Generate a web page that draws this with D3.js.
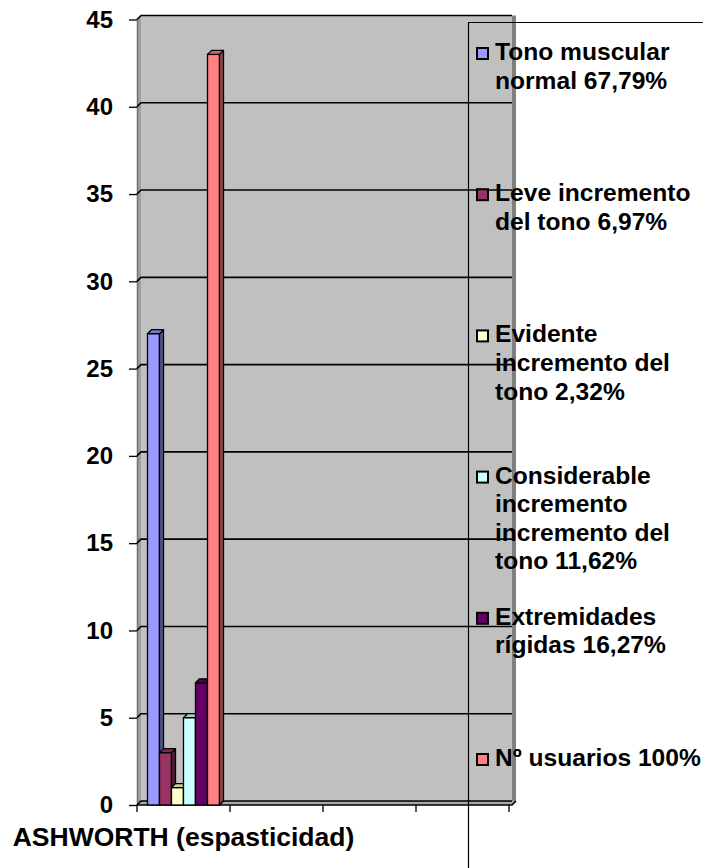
<!DOCTYPE html>
<html>
<head>
<meta charset="utf-8">
<script src="https://cdn.jsdelivr.net/npm/d3@7"></script>
<style>
  html, body { margin: 0; padding: 0; background: #fff; }
  svg { display: block; }
  text { font-family: "Liberation Sans", Arial, sans-serif; font-weight: bold; fill: #000; }
</style>
</head>
<body>
<svg id="chart" width="703" height="868"></svg>
<script>
// ---- data ----
const categories = ["ASHWORTH (espasticidad)", "", "", ""];
const seriesNames = [
  "Tono muscular normal 67,79%",
  "Leve incremento del tono 6,97%",
  "Evidente incremento del tono 2,32%",
  "Considerable incremento incremento del tono 11,62%",
  "Extremidades rígidas 16,27%",
  "Nº usuarios 100%"
];
const legendLines = [
  ["Tono muscular", "normal 67,79%"],
  ["Leve incremento", "del tono 6,97%"],
  ["Evidente", "incremento del", "tono 2,32%"],
  ["Considerable", "incremento", "incremento del", "tono 11,62%"],
  ["Extremidades", "rígidas 16,27%"],
  ["Nº usuarios 100%"]
];
const seriesColors = ["#9999FF", "#993366", "#FFFFCC", "#CCFFFF", "#660066", "#FF8080"];
// values per series, one per category
const tonoNormal    = [27, null, null, null];
const leveInc       = [3, null, null, null];
const evidenteInc   = [1, null, null, null];
const considerable  = [5, null, null, null];
const extremidades  = [7, null, null, null];
const usuarios      = [43, null, null, null];
const seriesValues = [tonoNormal, leveInc, evidenteInc, considerable, extremidades, usuarios];
const yTicks = [0, 5, 10, 15, 20, 25, 30, 35, 40, 45];

// ---- layout ----
const svg = d3.select("#chart");
const depth = 4;              // 3D offset
const frontLeft = 137, frontRight = 509, frontBottom = 805, frontTop = 19.5;

const y = d3.scaleLinear().domain([0, 45]).range([frontBottom, frontTop]);
const x = d3.scaleBand().domain(d3.range(categories.length)).range([frontLeft, frontRight]).padding(0);
const xs = d3.scaleBand().domain(d3.range(seriesNames.length)).range([0, x.bandwidth()])
  .paddingInner(0).paddingOuter(0.875);

const wallRight = frontRight + 3;
const wallTop = y(45) - depth;
const wallBottom = y(0) - depth;

// back wall
svg.append("rect")
  .attr("x", frontLeft + depth).attr("y", wallTop)
  .attr("width", wallRight - frontLeft - depth).attr("height", wallBottom - wallTop)
  .attr("fill", "#C0C0C0");
// right edge of wall
svg.append("rect")
  .attr("x", wallRight).attr("y", wallTop)
  .attr("width", depth).attr("height", wallBottom - wallTop)
  .attr("fill", "#808080");
// left side wall
svg.append("path")
  .attr("d", `M${frontLeft},${y(45)} L${frontLeft + depth},${wallTop} L${frontLeft + depth},${wallBottom} L${frontLeft},${y(0)} Z`)
  .attr("fill", "#A0A0A0");
svg.append("line")
  .attr("x1", frontLeft + 0.5).attr("x2", frontLeft + 0.5)
  .attr("y1", y(45)).attr("y2", y(0))
  .attr("stroke", "#707070").attr("stroke-width", 1.5);
// floor
svg.append("path")
  .attr("d", `M${frontLeft},${y(0)} L${frontLeft + depth},${wallBottom} L${wallRight + depth},${wallBottom} L${wallRight},${y(0)} Z`)
  .attr("fill", "#A8A8A8");

// gridlines (side wall + back wall)
svg.append("g").selectAll("path").data(yTicks).join("path")
  .attr("d", d => `M${frontLeft},${y(d)} L${frontLeft + depth},${y(d) - depth} L${wallRight},${y(d) - depth}`)
  .attr("fill", "none").attr("stroke", "#000").attr("stroke-width", 1.6);

// floor front edge
svg.append("path")
  .attr("d", `M${frontLeft},${y(0)} L${wallRight},${y(0)} L${wallRight + depth},${wallBottom}`)
  .attr("fill", "none").attr("stroke", "#000").attr("stroke-width", 1.6);

// bars (3D columns)
const shade = (c, k) => { const r = d3.rgb(c); return d3.rgb(r.r * k, r.g * k, r.b * k).toString(); };
const barsG = svg.append("g");
categories.forEach((cat, ci) => {
  seriesValues.forEach((vals, si) => {
    const v = vals[ci];
    if (v == null) return;
    const x0 = x(ci) + xs(si), w = xs.bandwidth();
    const yt = y(v), yb = y(0);
    const g = barsG.append("g");
    // front
    g.append("rect").attr("x", x0).attr("y", yt).attr("width", w).attr("height", yb - yt)
      .attr("fill", seriesColors[si]).attr("stroke", "#000").attr("stroke-width", 1.3);
    // side
    g.append("path")
      .attr("d", `M${x0 + w},${yt} L${x0 + w + depth},${yt - depth} L${x0 + w + depth},${yb - depth} L${x0 + w},${yb} Z`)
      .attr("fill", shade(seriesColors[si], 0.55)).attr("stroke", "#000").attr("stroke-width", 1.3)
      .attr("stroke-linejoin", "round");
    // top
    g.append("path")
      .attr("d", `M${x0},${yt} L${x0 + depth},${yt - depth} L${x0 + w + depth},${yt - depth} L${x0 + w},${yt} Z`)
      .attr("fill", shade(seriesColors[si], 0.8)).attr("stroke", "#000").attr("stroke-width", 1.3)
      .attr("stroke-linejoin", "round");
  });
});

// y axis
const yAxis = svg.append("g")
  .attr("transform", `translate(${frontLeft},0)`)
  .call(d3.axisLeft(y).tickValues(yTicks).tickSize(8).tickPadding(16));
yAxis.select(".domain").remove();
yAxis.selectAll(".tick line").attr("stroke", "#000").attr("stroke-width", 1.3);
yAxis.selectAll(".tick text").attr("font-size", 24).attr("font-family", null).attr("font-weight", "bold").attr("fill", "#000");

// x axis: labels at band centres, ticks at band boundaries
const xAxis = svg.append("g")
  .attr("transform", `translate(0,${y(0)})`)
  .call(d3.axisBottom(x).tickFormat(i => categories[i]).tickSize(0).tickPadding(22));
xAxis.select(".domain").remove();
xAxis.selectAll(".tick text").attr("font-size", 26.5).attr("font-family", null).attr("font-weight", "bold").attr("fill", "#000");
const bounds = d3.range(categories.length + 1).map(i => i < categories.length ? x(i) : x(i - 1) + x.bandwidth());
svg.append("g").selectAll("line").data(bounds).join("line")
  .attr("x1", d => d).attr("x2", d => d)
  .attr("y1", y(0)).attr("y2", y(0) + 7)
  .attr("stroke", "#000").attr("stroke-width", 1.3);

// legend box (extends past the page edges)
svg.append("path")
  .attr("d", "M710,22.5 L468.5,22.5 L468.5,875")
  .attr("fill", "none").attr("stroke", "#000").attr("stroke-width", 1.2);

const legend = svg.append("g");
const legendY0 = 60, legendStep = 141.2, lineH = 28.6;
legendLines.forEach((lines, i) => {
  const by = legendY0 + i * legendStep;
  legend.append("rect")
    .attr("x", 477).attr("y", by - 12).attr("width", 11).attr("height", 11)
    .attr("fill", seriesColors[i]).attr("stroke", "#000").attr("stroke-width", 2);
  const t = legend.append("text").attr("x", 495).attr("y", by).attr("font-size", 24.6);
  lines.forEach((ln, j) => {
    t.append("tspan").attr("x", 495).attr("y", by + j * lineH).text(ln);
  });
});
</script>
</body>
</html>
